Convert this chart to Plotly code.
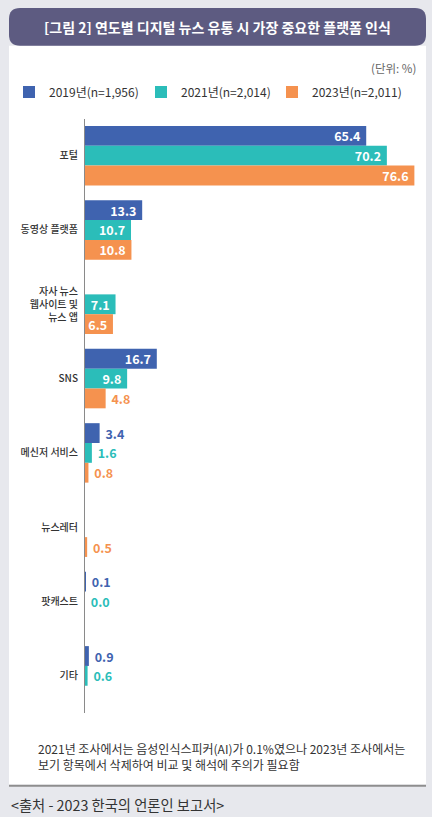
import plotly.graph_objects as go

categories = ["포털", "동영상 플랫폼", "자사 뉴스<br>웹사이트 및<br>뉴스 앱", "SNS",
              "메신저 서비스", "뉴스레터", "팟캐스트", "기타"]
series_names = ["2019년(n=1,956)", "2021년(n=2,014)", "2023년(n=2,011)"]
v2019 = [65.4, 13.3, None, 16.7, 3.4, None, 0.1, 0.9]
v2021 = [70.2, 10.7, 7.1, 9.8, 1.6, None, 0.0, 0.6]
v2023 = [76.6, 10.8, 6.5, 4.8, 0.8, 0.5, None, None]
colors = ["#3f63af", "#2bbdb9", "#f5924f"]

FONT = "Noto Sans CJK KR"
W, H = 432, 817
L, R, T, B = 85, 12, 116, 104
XMAX = (W - L - R) / 4.3
legend_ids = ["legend", "legend2", "legend3"]
legend_left_px = [9, 141, 272]

def px_x(p):
    return (p - L) / (W - L - R)

def px_y(p):
    return (H - B - p) / (H - T - B)

fig = go.Figure()
for name, vals, col, lid in zip(series_names, [v2019, v2021, v2023], colors, legend_ids):
    texts, pos = [], []
    for v in vals:
        if v is None:
            texts.append("")
            pos.append("none")
        elif v >= 5:
            texts.append(f"{v:.1f}\u00a0")
            pos.append("inside")
        else:
            texts.append(f"\u00a0{v:.1f}")
            pos.append("outside")
    fig.add_trace(go.Bar(
        y=categories, x=vals, name=name, orientation="h", legend=lid,
        marker=dict(color=col, line=dict(width=0)),
        text=texts, textposition=pos, insidetextanchor="end", textangle=0,
        constraintext="none",
        insidetextfont=dict(color="white", size=12.5, family=FONT, weight=600),
        outsidetextfont=dict(color=col, size=12.5, family=FONT, weight=600),
        cliponaxis=False, hoverinfo="skip",
    ))

def rounded_rect(x0, y0, x1, y1, r):
    X0, X1 = px_x(x0), px_x(x1)
    Y0, Y1 = px_y(y0), px_y(y1)
    rx = r / (W - L - R)
    ry = r / (H - T - B)
    return (f"M {X0+rx},{Y0} L {X1-rx},{Y0} Q {X1},{Y0} {X1},{Y0-ry} "
            f"L {X1},{Y1+ry} Q {X1},{Y1} {X1-rx},{Y1} L {X0+rx},{Y1} "
            f"Q {X0},{Y1} {X0},{Y1+ry} L {X0},{Y0-ry} Q {X0},{Y0} {X0+rx},{Y0} Z")

shapes = [
    dict(type="rect", xref="paper", yref="paper", x0=px_x(9), x1=px_x(426),
         y0=px_y(43), y1=px_y(785), fillcolor="white", line=dict(width=0), layer="below"),
    dict(type="path", xref="paper", yref="paper", path=rounded_rect(9, 5, 426, 43, 11),
         fillcolor="#5d5b81", line=dict(width=0), layer="below"),
    dict(type="line", xref="paper", yref="paper", x0=px_x(9), x1=px_x(426),
         y0=px_y(786), y1=px_y(786), line=dict(color="#8e8e8e", width=2)),
]

annotations = [
    dict(text="[그림 2] 연도별 디지털 뉴스 유통 시 가장 중요한 플랫폼 인식", xref="paper", yref="paper",
         x=px_x(217), y=px_y(24), xanchor="center", yanchor="middle", showarrow=False,
         font=dict(family=FONT, size=14, color="white", weight="bold")),
    dict(text="(단위: %)", xref="paper", yref="paper", x=px_x(418), y=px_y(65),
         xanchor="right", yanchor="middle", showarrow=False,
         font=dict(family=FONT, size=11.5, color="#666666")),
    dict(text="2021년 조사에서는 음성인식스피커(AI)가 0.1%였으나 2023년 조사에서는<br>보기 항목에서 삭제하여 비교 및 해석에 주의가 필요함",
         xref="paper", yref="paper", x=px_x(36), y=px_y(757), xanchor="left", yanchor="middle",
         align="left", showarrow=False,
         font=dict(family=FONT, size=12, color="#333333")),
    dict(text="<출처 - 2023 한국의 언론인 보고서>", xref="paper", yref="paper", x=px_x(9), y=px_y(805),
         xanchor="left", yanchor="middle", showarrow=False,
         font=dict(family=FONT, size=14.3, color="#333333")),
]

legend_common = dict(orientation="h", xref="container", yref="container",
                     y=1 - 92 / H, xanchor="left", yanchor="middle",
                     font=dict(family=FONT, size=12, color="#333333"),
                     bgcolor="rgba(0,0,0,0)")

fig.update_layout(
    width=W, height=H,
    margin=dict(l=L, r=R, t=T, b=B),
    paper_bgcolor="#e7e8ed", plot_bgcolor="white",
    barmode="group", bargap=0.2, bargroupgap=0,
    font=dict(family=FONT, color="#333333"),
    showlegend=True,
    shapes=shapes, annotations=annotations,
)
for lid, lx in zip(legend_ids, legend_left_px):
    fig.update_layout({lid: dict(legend_common, x=lx / W)})

fig.update_xaxes(range=[0, XMAX], visible=False, fixedrange=True)
fig.update_yaxes(autorange="reversed", showline=True, linecolor="#8a8a8a", linewidth=1,
                 ticks="", showgrid=False, zeroline=False, ticklabelstandoff=4,
                 tickfont=dict(family=FONT, size=10, color="#333333", weight=500),
                 fixedrange=True)

fig.write_html("out.html", config={"displayModeBar": False},
               post_script="document.body.style.margin='0';document.body.style.overflow='hidden';")
